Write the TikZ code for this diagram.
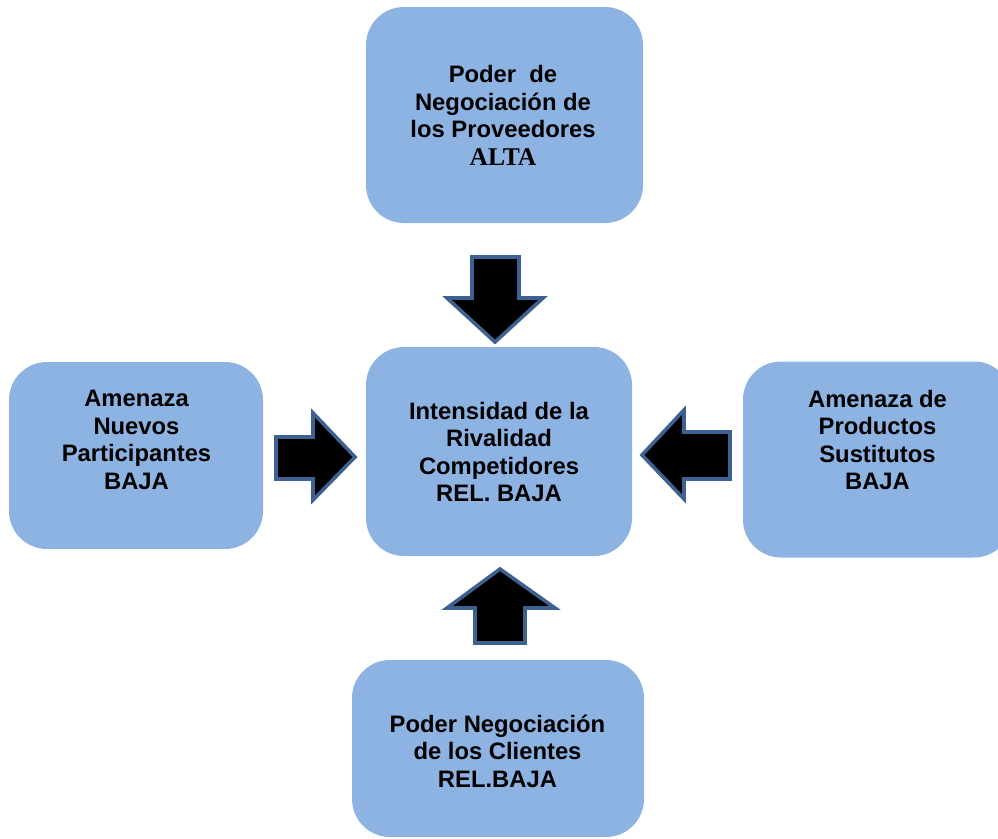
\documentclass[tikz,border=0pt]{standalone}
\usepackage{fontspec}
\setmainfont{Liberation Sans}
\newfontfamily\tmsfont{Liberation Serif}
\definecolor{boxfill}{HTML}{8DB3E2}
\definecolor{arrline}{HTML}{3D6190}
\begin{document}
\begin{tikzpicture}[x=1pt,y=-1pt,
  box/.style={draw=none,fill=boxfill,rounded corners=38pt,inner sep=0pt},
  lbl/.style={font=\bfseries\fontsize{23.8}{27.6}\selectfont,align=center,inner sep=0pt},
  blockarrow/.style={fill=black,draw=arrline,line width=3.6pt,line join=miter}]
\useasboundingbox (0,0) rectangle (998,838);
\clip (0,0) rectangle (998,838);
% boxes
\node[box,minimum width=277pt,minimum height=216pt] (T) at (504.5,115) {};
\node[box,minimum width=266pt,minimum height=209pt] (C) at (499,451.5) {};
\node[box,minimum width=254pt,minimum height=187pt] (L) at (136,455.5) {};
\node[box,minimum width=269pt,minimum height=196pt] (R) at (877.5,459.5) {};
\node[box,minimum width=292pt,minimum height=177pt] (B) at (498,748.5) {};
% texts
\node[lbl] (Tt) at (503,115.5) {Poder\ \ de\\Negociación de\\los Proveedores\\{\tmsfont\fontsize{25.5}{27.6}\selectfont ALTA}};
\node[lbl] (Ct) at (499,452) {Intensidad de la\\Rivalidad\\Competidores\\REL. BAJA};
\node[lbl] (Lt) at (136.5,440) {Amenaza\\Nuevos\\Participantes\\BAJA};
\node[lbl] (Rt) at (877.5,440) {Amenaza de\\Productos\\Sustitutos\\BAJA};
\node[lbl] (Bt) at (497.5,751) {Poder Negociación\\de los Clientes\\REL.BAJA};
% block arrows
\draw[blockarrow] (472,257) -- (519,257) -- (519,298) -- (543,298) -- (495,342) -- (447,298) -- (472,298) -- cycle;
\draw[blockarrow] (276,437) -- (313,437) -- (313,413) -- (355,457) -- (313,500) -- (313,479) -- (276,479) -- cycle;
\draw[blockarrow] (730,432) -- (684,432) -- (684,410) -- (642,455) -- (684,499) -- (684,479) -- (730,479) -- cycle;
\draw[blockarrow] (475,643) -- (525,643) -- (525,608) -- (555,608) -- (500,569) -- (447,608) -- (475,608) -- cycle;
\end{tikzpicture}
\end{document}
